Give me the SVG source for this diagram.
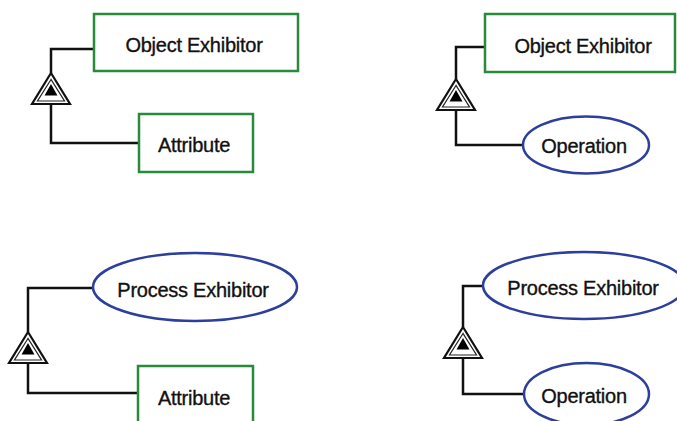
<svg xmlns="http://www.w3.org/2000/svg" width="677" height="421" viewBox="0 0 677 421">
<style>
.box{fill:#fff;stroke:#2a8a3c;stroke-width:2.5}
.ell{fill:#fff;stroke:#2c3f9c;stroke-width:2.5}
.lbl{font-family:"Liberation Sans",Arial,sans-serif;font-size:20px;letter-spacing:-0.25px;fill:#111;stroke:#111;stroke-width:0.35;text-anchor:middle}
.con{fill:none;stroke:#111;stroke-width:2.5}
</style>
<defs>
<g id="tri">
<polygon points="0,0 -19,31 19,31" fill="#fff" stroke="#111" stroke-width="2.2" stroke-linejoin="miter"/>
<polygon points="0,6.5 -13.5,28 13.5,28" fill="#fff" stroke="#222" stroke-width="1.2"/>
<polygon points="0,11 -6.5,22.5 6.5,22.5" fill="#000"/>
</g>
</defs>
<g id="connectors">
<polyline class="con" points="94,49 51,49 51,73"/>
<polyline class="con" points="51,104 51,143 139,143"/>
<polyline class="con" points="485,47 456,47 456,79"/>
<polyline class="con" points="456,110 456,145 523,145"/>
<polyline class="con" points="93,288 28,288 28,332"/>
<polyline class="con" points="28,363 28,393 138,393"/>
<polyline class="con" points="483,286 463,286 463,327"/>
<polyline class="con" points="463,358 463,394 524,394"/>
<use href="#tri" transform="translate(51,73)"/>
<use href="#tri" transform="translate(456,79)"/>
<use href="#tri" transform="translate(28,332)"/>
<use href="#tri" transform="translate(463,327)"/>
</g>
<g id="n1"><rect class="box" x="94" y="14" width="204" height="57"/><text class="lbl" x="194" y="52">Object Exhibitor</text></g>
<g id="n2"><rect class="box" x="139" y="114" width="114" height="58"/><text class="lbl" x="194" y="152">Attribute</text></g>
<g id="n3"><rect class="box" x="485" y="14" width="190" height="58"/><text class="lbl" x="583" y="53">Object Exhibitor</text></g>
<g id="n4"><ellipse class="ell" cx="586" cy="145" rx="63" ry="28.5"/><text class="lbl" x="584" y="153">Operation</text></g>
<g id="n5"><ellipse class="ell" cx="195" cy="287" rx="102" ry="34"/><text class="lbl" x="193" y="297">Process Exhibitor</text></g>
<g id="n6"><rect class="box" x="138" y="366" width="115" height="70"/><text class="lbl" x="194" y="405">Attribute</text></g>
<g id="n7"><ellipse class="ell" cx="584" cy="285.5" rx="101" ry="33.5"/><text class="lbl" x="583" y="295">Process Exhibitor</text></g>
<g id="n8"><ellipse class="ell" cx="586.5" cy="394" rx="62.5" ry="31"/><text class="lbl" x="584" y="403">Operation</text></g>
</svg>
